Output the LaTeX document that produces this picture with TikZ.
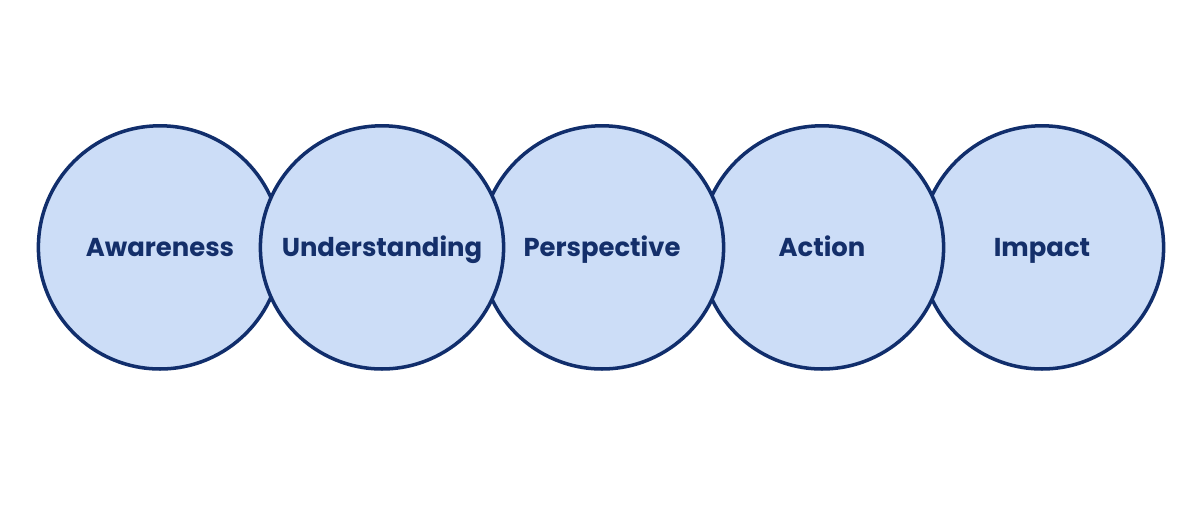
\documentclass[tikz,border=0pt]{standalone}
\usepackage{fontspec}
\setmainfont{Poppins}
\usepackage{xcolor}
\definecolor{stepfill}{HTML}{CCDDF7}
\definecolor{stepline}{HTML}{112E6C}
\definecolor{steptext}{HTML}{142F6A}

\begin{document}
\begin{tikzpicture}[
  stage/.style={circle, draw=stepline, fill=stepfill, line width=2.5pt,
    minimum size=6.08cm, inner sep=0pt, text=steptext,
    text height=13pt, text depth=0pt,
    font=\fontsize{18.4}{22}\selectfont\bfseries}
]
  \useasboundingbox (0,0) rectangle (30,13.025);
  \node[stage] (awareness) at (4.0,6.84) {Awareness};
  \node[stage] (impact) at (26.05,6.84) {Impact};
  \node[stage] (action) at (20.55,6.84) {Action};
  \node[stage] (perspective) at (15.05,6.84) {Perspective};
  \node[stage] (understanding) at (9.55,6.84) {Understanding};
\end{tikzpicture}
\end{document}
